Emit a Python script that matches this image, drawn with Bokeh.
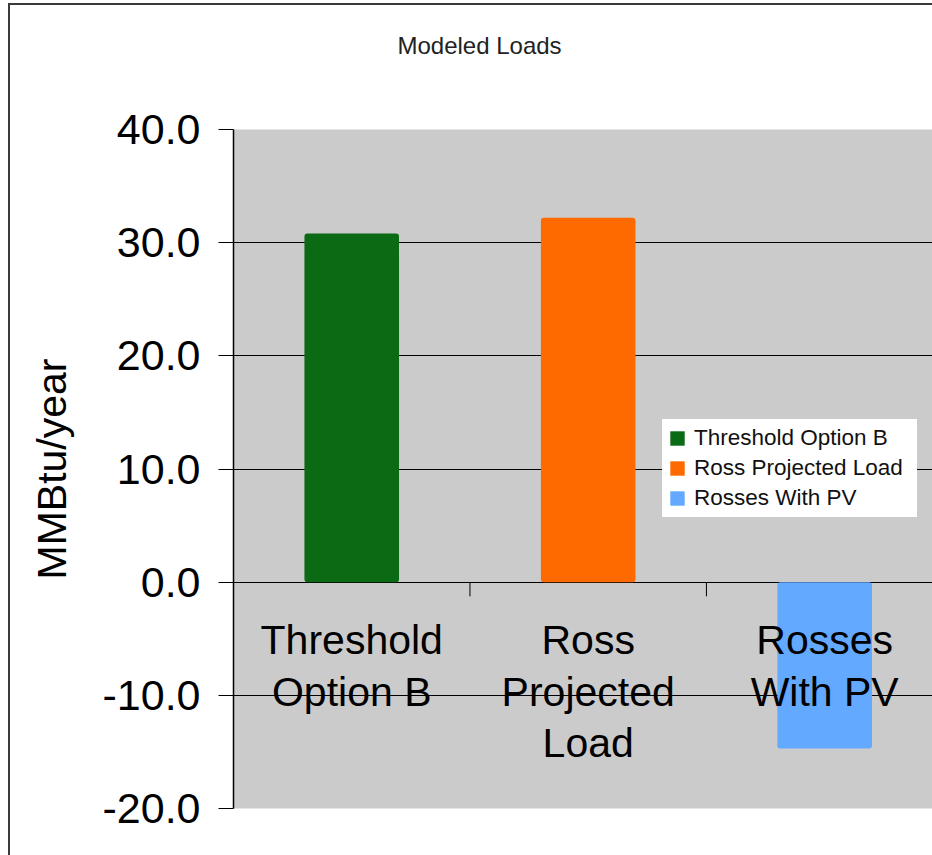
from bokeh.plotting import figure
from bokeh.models import Range1d, NumeralTickFormatter, FixedTicker, ColumnDataSource, Title
from bokeh.core.properties import value
from bokeh.embed import file_html
from bokeh.resources import INLINE

title = "Modeled Loads"
categories = ["Threshold\nOption B", "Ross\nProjected\nLoad", "Rosses\nWith PV"]
series = ["Threshold Option B", "Ross Projected Load", "Rosses With PV"]
values = [30.8, 32.2, -14.7]
colors = ["#0b6a14", "#ff6a00", "#62a9ff"]
y_ticks = [-20, -10, 0, 10, 20, 30, 40]
y_label = "MMBtu/year"

FONT = "Liberation Sans"
pos = [i + 0.5 for i in range(len(categories))]

p = figure(width=932, height=855, x_range=Range1d(0, 2.956), y_range=Range1d(-20, 40),
           output_backend="svg", toolbar_location=None, x_axis_location=None,
           min_border_left=233, min_border_right=0, min_border_top=129, min_border_bottom=47)
p.title = None
p.styles = {
    "background": "linear-gradient(#3a3a3a,#3a3a3a) 8px 3px / 2px calc(100% - 3px) no-repeat, "
                  "linear-gradient(#3a3a3a,#3a3a3a) 8px 3px / calc(100% - 8px) 2px no-repeat, #ffffff"
}
p.background_fill_color = "#cbcbcb"
p.border_fill_color = "white"
p.border_fill_alpha = 0
p.outline_line_color = None
p.xgrid.visible = False
p.ygrid.ticker = FixedTicker(ticks=y_ticks)
p.ygrid.grid_line_color = "black"
p.ygrid.grid_line_width = 1

# spacer between the title and the plot area (added first: nearest the frame)
p.add_layout(Title(text=" ", text_font_size="8px", standoff=60), "above")
p.add_layout(Title(text=title, align="left", offset=164, standoff=0,
                   text_font=FONT, text_font_size="24px", text_font_style="normal",
                   text_color="#222222"), "above")

yax = p.yaxis[0]
yax.ticker = FixedTicker(ticks=y_ticks)
yax.formatter = NumeralTickFormatter(format="0.0")
yax.axis_line_color = "black"
yax.axis_line_width = 1.5
yax.major_tick_out = 15
yax.major_tick_in = 0
yax.major_tick_line_color = "black"
yax.minor_tick_line_color = None
yax.major_label_standoff = 18
yax.major_label_text_font = FONT
yax.major_label_text_font_size = "43px"
yax.major_label_text_color = "black"
yax.axis_label = y_label
yax.axis_label_text_font = FONT
yax.axis_label_text_font_size = "41px"
yax.axis_label_text_font_style = "normal"
yax.axis_label_text_color = "black"
yax.axis_label_standoff = 24

for i, (s, v, c) in enumerate(zip(series, values, colors)):
    src = ColumnDataSource(dict(x=[pos[i]], top=[v]))
    p.vbar(x="x", top="top", bottom=0, width=0.40, source=src, fill_color=c,
           line_color=None, legend_label=s, border_radius=3)

# category boundary ticks on the zero line
bounds = [i + 1 for i in range(len(categories) - 1)]
p.segment(x0=bounds, y0=[0] * len(bounds), x1=bounds, y1=[-1.25] * len(bounds),
          line_color="black", line_width=1)

p.text(x=pos, y=[0] * len(pos), text=categories, text_align="center", text_baseline="top",
       y_offset=35, text_font=value(FONT), text_font_size="41px", text_line_height=1.12,
       text_color="black")

lg = p.legend[0]
lg.location = (429, 291)
lg.background_fill_color = "white"
lg.background_fill_alpha = 1
lg.border_line_color = "white"
lg.border_line_width = 6
lg.padding = 0
lg.margin = 0
lg.spacing = 4
lg.glyph_width = 18
lg.glyph_height = 18
lg.label_height = 24
lg.label_width = 217
lg.label_standoff = 8
lg.label_text_font = FONT
lg.label_text_font_size = "22.5px"
lg.label_text_color = "#111111"

open("out.html", "w").write(file_html(p, INLINE))
